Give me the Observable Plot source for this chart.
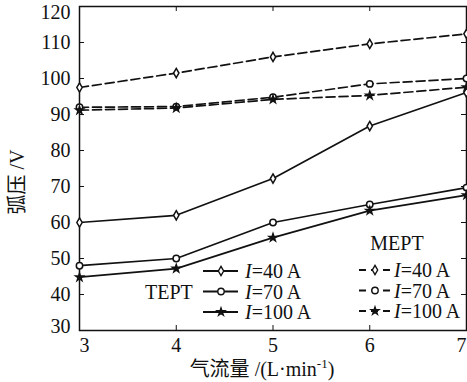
<!DOCTYPE html>
<html><head><meta charset="utf-8">
<script src="https://cdn.jsdelivr.net/npm/d3@7"></script>
<script src="https://cdn.jsdelivr.net/npm/@observablehq/plot@0.6"></script>
<style>
body{margin:0;background:#fff}
#chart{width:467px;height:382px}
</style>
</head><body><div id="chart"></div>
<script>
// ---- data ----
const flow = [3, 4, 5, 6, 7];
const xTicks = [3, 4, 5, 6, 7];
const yTicks = [30, 40, 50, 60, 70, 80, 90, 100, 110, 120];
const tept40 = [60, 62, 72.2, 86.8, 96.1];
const tept70 = [48, 50, 60, 65, 69.7];
const tept100 = [44.8, 47.2, 55.8, 63.3, 67.6];
const mept40 = [97.5, 101.5, 106, 109.6, 112.4];
const mept70 = [92, 92.2, 94.8, 98.5, 100];
const mept100 = [91.2, 91.8, 94.2, 95.3, 97.6];
const currentLabels = ["40 A", "70 A", "100 A"];
const modes = ["TEPT", "MEPT"];

const seriesDefs = [
  {mode: "TEPT", cur: 0, values: tept40, symbol: "diamond"},
  {mode: "TEPT", cur: 1, values: tept70, symbol: "circle"},
  {mode: "TEPT", cur: 2, values: tept100, symbol: "star"},
  {mode: "MEPT", cur: 0, values: mept40, symbol: "diamond"},
  {mode: "MEPT", cur: 1, values: mept70, symbol: "circle"},
  {mode: "MEPT", cur: 2, values: mept100, symbol: "star"}
];
const rows = seriesDefs.flatMap(s => flow.map((f, i) => ({
  key: s.mode + s.cur, mode: s.mode, symbol: s.symbol, flow: f, v: s.values[i]
})));

// ---- layout ----
const W = 467, H = 382;
const mL = 79, mR = 1, mT = 6, mB = 52;
const pw = W - mL - mR, ph = H - mT - mB;
const serif = "Liberation Serif";
const cjk = "Noto Sans CJK SC";
const ink = "#111";
const fs = 20;

const symSize = {diamond: 2.8, circle: 3.2, star: 2.4};
const dots = ["diamond", "circle", "star"].map(sym =>
  Plot.dot(rows.filter(d => d.symbol === sym), {
    x: "flow", y: "v", symbol: sym, r: symSize[sym],
    fill: sym === "star" ? ink : "white", stroke: ink, strokeWidth: 1.5
  })
);
const yEnd = yTicks.length - 1, xEnd = xTicks.length - 1;
const labelStyle = {fontSize: fs, fontFamily: serif, fill: ink, stroke: null};

const chart = Plot.plot({
  width: W, height: H,
  marginLeft: mL, marginRight: mR, marginTop: mT, marginBottom: mB,
  style: {fontSize: fs + "px", fontFamily: serif, color: ink, background: "white"},
  x: {domain: [3, 7], axis: null},
  y: {domain: [30, 120], axis: null},
  marks: [
    Plot.frame({stroke: ink, strokeWidth: 1.5}),
    Plot.tickY(yTicks, {y: d => d, insetRight: pw - 5, stroke: ink}),
    Plot.tickY(yTicks, {y: d => d, insetLeft: pw - 5, stroke: ink}),
    Plot.tickX(xTicks, {x: d => d, insetTop: ph - 5, stroke: ink}),
    Plot.tickX(xTicks, {x: d => d, insetBottom: ph - 5, stroke: ink}),
    // y tick labels (end labels nudged inward as in the reference)
    Plot.text(yTicks.slice(1, -1), {...labelStyle, y: d => d, frameAnchor: "left", text: d => String(d), textAnchor: "end", dx: -9}),
    Plot.text([yTicks[yEnd]], {...labelStyle, y: d => d, frameAnchor: "left", text: d => String(d), textAnchor: "end", dx: -9, dy: 6}),
    Plot.text([yTicks[0]], {...labelStyle, y: d => d, frameAnchor: "left", text: d => String(d), textAnchor: "end", dx: -9, dy: -4}),
    // x tick labels
    Plot.text(xTicks.slice(1, -1), {...labelStyle, x: d => d, frameAnchor: "bottom", text: d => String(d), lineAnchor: "top", dy: 7}),
    Plot.text([xTicks[0]], {...labelStyle, x: d => d, frameAnchor: "bottom", text: d => String(d), lineAnchor: "top", dy: 7, dx: 5}),
    Plot.text([xTicks[xEnd]], {...labelStyle, x: d => d, frameAnchor: "bottom", text: d => String(d), lineAnchor: "top", dy: 7, dx: -5}),
    Plot.line(rows.filter(d => d.mode === "TEPT"), {x: "flow", y: "v", z: "key", stroke: ink, strokeWidth: 1.7}),
    Plot.line(rows.filter(d => d.mode === "MEPT"), {x: "flow", y: "v", z: "key", stroke: ink, strokeWidth: 1.7, strokeDasharray: "9,4"}),
    ...dots
  ]
});
document.getElementById("chart").appendChild(chart);

const svg = d3.select(chart);

// ---- axis titles ----
const yt = svg.append("text")
  .attr("transform", "translate(24,182) rotate(-90)")
  .attr("text-anchor", "middle")
  .attr("fill", ink).attr("font-size", fs);
yt.append("tspan").attr("font-family", cjk).text("弧压");
yt.append("tspan").attr("font-family", serif).text(" /V");
const xt = svg.append("text")
  .attr("x", 262).attr("y", 376).attr("text-anchor", "middle")
  .attr("fill", ink).attr("font-size", fs);
xt.append("tspan").attr("font-family", cjk).text("气流量");
xt.append("tspan").attr("font-family", serif).text(" /(L·min");
xt.append("tspan").attr("font-family", serif).attr("font-size", 13).attr("dy", -8).text("-1");
xt.append("tspan").attr("font-family", serif).attr("dy", 8).text(")");

// ---- legend ----
const symMap = {diamond: d3.symbolDiamond, circle: d3.symbolCircle, star: d3.symbolStar};
const legendCfg = {
  TEPT: {x1: 203, x2: 238, mx: 221, tx: 245, rows: [271, 291.5, 312], dash: null, title: [145, 299, "start"]},
  MEPT: {x1: 359, x2: 392, mx: 375, tx: 394, rows: [270, 290.5, 311], dash: "7,5", title: [397, 250, "middle"]}
};
const lg = svg.append("g");
modes.forEach(m => {
  const c = legendCfg[m];
  lg.append("text").attr("x", c.title[0]).attr("y", c.title[1]).attr("text-anchor", c.title[2])
    .attr("font-family", serif).attr("font-size", fs).attr("fill", ink).text(m);
  seriesDefs.filter(s => s.mode === m).forEach((s, i) => {
    const y = c.rows[i];
    lg.append("line").attr("x1", c.x1).attr("x2", c.x2).attr("y1", y).attr("y2", y)
      .attr("stroke", ink).attr("stroke-width", 1.8).attr("stroke-dasharray", c.dash);
    const r = symSize[s.symbol];
    lg.append("path").attr("transform", `translate(${c.mx},${y})`)
      .attr("d", d3.symbol(symMap[s.symbol], Math.PI * r * r)())
      .attr("fill", s.symbol === "star" ? ink : "white").attr("stroke", ink).attr("stroke-width", 1.4);
    const t = lg.append("text").attr("x", c.tx).attr("y", y + 7).attr("text-anchor", "start")
      .attr("font-family", serif).attr("font-size", fs).attr("fill", ink);
    t.append("tspan").attr("font-style", "italic").text("I");
    t.append("tspan").text("=" + currentLabels[s.cur]);
  });
});
</script>
</body></html>
